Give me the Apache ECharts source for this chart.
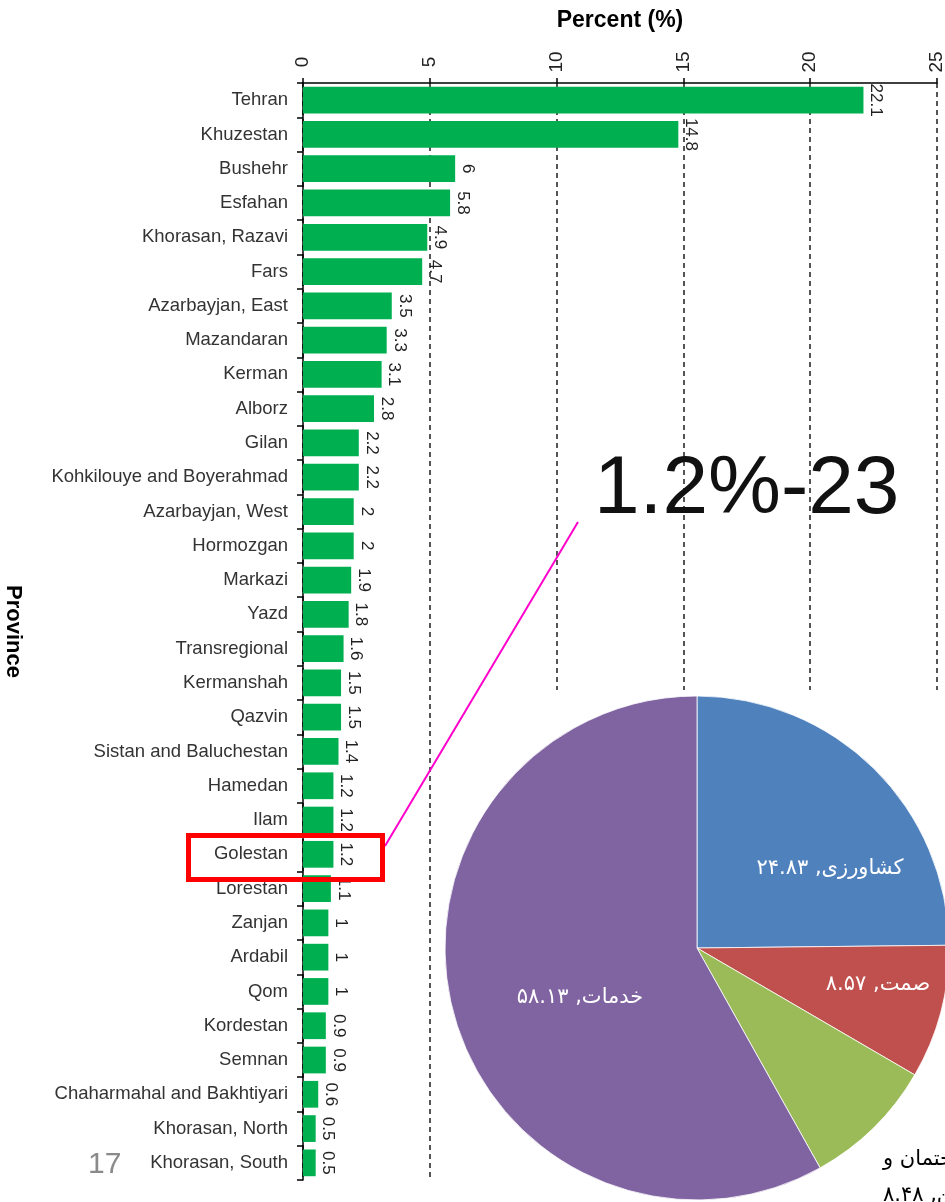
<!DOCTYPE html>
<html>
<head>
<meta charset="utf-8">
<script src="https://cdn.jsdelivr.net/npm/echarts@6/dist/echarts.min.js"></script>
<style>
html,body{margin:0;padding:0;background:#fff;}
#main{width:945px;height:1202px;}
</style>
</head>
<body>
<div id="main"></div>
<script>
// provinces and their share (%)
var provinces = ['Tehran','Khuzestan','Bushehr','Esfahan','Khorasan, Razavi','Fars','Azarbayjan, East','Mazandaran','Kerman','Alborz','Gilan','Kohkilouye and Boyerahmad','Azarbayjan, West','Hormozgan','Markazi','Yazd','Transregional','Kermanshah','Qazvin','Sistan and Baluchestan','Hamedan','Ilam','Golestan','Lorestan','Zanjan','Ardabil','Qom','Kordestan','Semnan','Chaharmahal and Bakhtiyari','Khorasan, North','Khorasan, South'];
var percents = [22.1,14.8,6,5.8,4.9,4.7,3.5,3.3,3.1,2.8,2.2,2.2,2,2,1.9,1.8,1.6,1.5,1.5,1.4,1.2,1.2,1.2,1.1,1,1,1,0.9,0.9,0.6,0.5,0.5];
// sectors pie
var sectorNames = ['کشاورزی','صمت','ساختمان و مسکن','خدمات'];
var sectorLabels = ['کشاورزی, ۲۴.۸۳','صمت, ۸.۵۷','ساختمان و\nمسکن, ۸.۴۸','خدمات, ۵۸.۱۳'];
var sectorValues = [24.83,8.57,8.48,58.13];
var sectorColors = ['#4f81bd','#c0504d','#9bbb59','#8064a2'];

var myChart = echarts.init(document.getElementById('main'));
var pieData = [];
for(var i in sectorValues){
	pieData.push({
		name : sectorNames[i],
		value : sectorValues[i],
		itemStyle : {color : sectorColors[i]},
		label : {
			formatter : sectorLabels[i],
			color : i==2 ? '#000' : '#fff'
		}
	});
}
// label spots in the pie picture
var pieLabelPos = [[830,869,'center'],[878,985,'center'],[883,1178,'left'],[580,998,'center']];

option = {
	animation : false,
	grid : {
		left : 303,
		right : 8,
		top : 83,
		height : 1097,
		outerBoundsMode : 'none'
	},
	xAxis : {
		type : 'value',
		position : 'top',
		min : 0,
		max : 25,
		interval : 5,
		name : 'Percent (%)',
		nameLocation : 'middle',
		nameGap : 51,
		nameTextStyle : {
			fontFamily : 'Liberation Sans',
			fontWeight : 'bold',
			fontSize : 23,
			color : '#000'
		},
		axisLine : {show : true, lineStyle : {color : '#000', width : 1.5}},
		axisTick : {show : true, length : 5, lineStyle : {color : '#000', width : 1.5}},
		axisLabel : {
			rotate : -90,
			margin : 21,
			align : 'center',
			verticalAlign : 'middle',
			fontFamily : 'Liberation Sans',
			fontSize : 19,
			color : '#222'
		},
		splitLine : {
			show : true,
			lineStyle : {color : '#555', width : 2, type : [5,4]}
		}
	},
	yAxis : {
		type : 'category',
		inverse : true,
		data : provinces,
		name : 'Province',
		nameLocation : 'middle',
		nameGap : 279,
		nameRotate : -90,
		nameTextStyle : {
			fontFamily : 'Liberation Sans',
			fontWeight : 'bold',
			fontSize : 22,
			color : '#000'
		},
		axisLine : {show : true, lineStyle : {color : '#000', width : 1.5}},
		axisTick : {show : true, length : 6, lineStyle : {color : '#000', width : 1.5}},
		axisLabel : {
			margin : 15,
			fontFamily : 'Liberation Sans',
			fontSize : 18.5,
			color : '#333'
		}
	},
	graphic : [
		{type : 'rect', z : 1, shape : {x : 440, y : 690, width : 505, height : 512}, style : {fill : '#fff'}},
		{type : 'line', z : 20, shape : {x1 : 385, y1 : 846, x2 : 578, y2 : 522}, style : {stroke : '#f0c', lineWidth : 2}},
		{type : 'rect', z : 20, shape : {x : 188.5, y : 835.5, width : 194, height : 44}, style : {fill : null, stroke : '#ff0000', lineWidth : 5}},
		{type : 'text', z : 20, style : {text : '1.2%-23', x : 594, y : 490, verticalAlign : 'middle', font : '82px "Liberation Sans"', fill : '#111'}},
		{type : 'text', z : 20, style : {text : '17', x : 88, y : 1165, verticalAlign : 'middle', font : '30px "Liberation Sans"', fill : '#8a8a8a'}}
	],
	series : [
		{
			name : 'Percent',
			type : 'bar',
			barWidth : '78%',
			data : percents,
			itemStyle : {color : '#00b050'},
			label : {
				show : true,
				position : 'right',
				distance : 4,
				rotate : -90,
				align : 'center',
				verticalAlign : 'bottom',
				fontFamily : 'Liberation Sans',
				fontSize : 17,
				color : '#222'
			}
		},
		{
			name : 'Sectors',
			type : 'pie',
			z : 3,
			center : [697,948],
			radius : 252,
			startAngle : 90,
			clockwise : true,
			data : pieData,
			itemStyle : {borderColor : '#fff', borderWidth : 0.8},
			label : {
				show : true,
				position : 'inside',
				fontFamily : 'DejaVu Sans',
				fontSize : 21,
				lineHeight : 36
			},
			labelLine : {show : false},
			labelLayout : function(params){
				var p = pieLabelPos[params.dataIndex];
				return {x : p[0], y : p[1], align : p[2], verticalAlign : 'middle'};
			}
		}
	]
};
myChart.setOption(option);
</script>
</body>
</html>
